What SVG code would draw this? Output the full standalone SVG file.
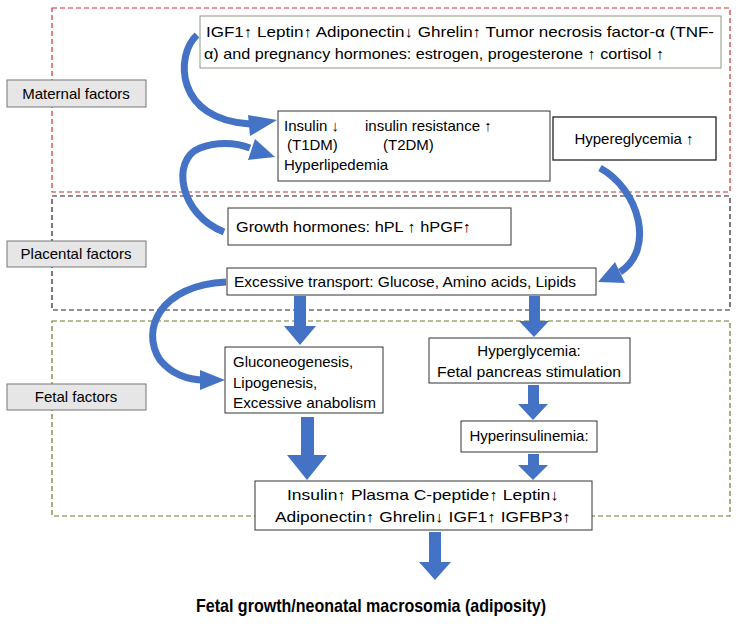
<svg xmlns="http://www.w3.org/2000/svg" width="739" height="628" viewBox="0 0 739 628">
<style>
text{font-family:"Liberation Sans",Arial,sans-serif;font-size:15px;fill:#000}
.b{fill:#fff;stroke:#333;stroke-width:1}
.lab{fill:#e6e6e6;stroke:#777;stroke-width:1}
.c{fill:none;stroke:#4472C4;stroke-width:7;stroke-linecap:butt}
.h{fill:#4472C4}
</style>
<rect width="739" height="628" fill="#fff"/>
<g id="regions" fill="none" stroke-width="1.2" stroke-dasharray="5,3">
<rect x="52" y="8" width="678" height="184" stroke="#d03030"/>
<rect x="52" y="196" width="678" height="114" stroke="#222"/>
<rect x="52" y="321" width="678" height="195" stroke="#6a7a30"/>
</g>
<g id="maternal"><rect class="lab" x="7" y="80" width="139" height="27"/><text x="76" y="99" text-anchor="middle">Maternal factors</text></g>
<g id="placental"><rect class="lab" x="7" y="241" width="139" height="26"/><text x="76" y="259" text-anchor="middle">Placental factors</text></g>
<g id="fetal"><rect class="lab" x="7" y="384" width="139" height="26"/><text x="76" y="402" text-anchor="middle">Fetal factors</text></g>
<g id="hormones"><rect x="200" y="16" width="521" height="52" fill="#fff" stroke="#8a9a80"/>
<text x="206" y="37" textLength="508" lengthAdjust="spacingAndGlyphs">IGF1↑ Leptin↑ Adiponectin↓ Ghrelin↑ Tumor necrosis factor-α (TNF-</text>
<text x="204" y="59" textLength="460" lengthAdjust="spacingAndGlyphs">α) and pregnancy hormones: estrogen, progesterone ↑ cortisol ↑</text></g>
<g id="insulin"><rect class="b" x="278" y="111" width="272" height="70"/>
<text x="284" y="131">Insulin ↓</text><text x="365" y="131">insulin resistance ↑</text>
<text x="287" y="150">(T1DM)</text><text x="383" y="150">(T2DM)</text>
<text x="284" y="170">Hyperlipedemia</text></g>
<g id="hyperegly"><rect x="553" y="117" width="163" height="43" fill="#fff" stroke="#222" stroke-width="1.3"/><text x="634" y="144" text-anchor="middle">Hypereglycemia ↑</text></g>
<g id="growth"><rect class="b" x="228" y="208" width="283" height="37"/><text x="236" y="232" textLength="235" lengthAdjust="spacingAndGlyphs">Growth hormones: hPL ↑  hPGF↑</text></g>
<g id="transport"><rect class="b" x="227" y="268" width="369" height="27"/><text x="234" y="287" textLength="342" lengthAdjust="spacingAndGlyphs">Excessive transport: Glucose, Amino acids, Lipids</text></g>
<g id="gluco"><rect class="b" x="225" y="347" width="158" height="66"/>
<text x="233" y="367">Gluconeogenesis,</text><text x="233" y="388">Lipogenesis,</text><text x="233" y="408" textLength="143" lengthAdjust="spacingAndGlyphs">Excessive anabolism</text></g>
<g id="hyperglyc"><rect class="b" x="429" y="338" width="201" height="45"/>
<text x="529" y="356" text-anchor="middle">Hyperglycemia:</text><text x="529" y="377" text-anchor="middle" textLength="184" lengthAdjust="spacingAndGlyphs">Fetal pancreas stimulation</text></g>
<g id="hyperins"><rect class="b" x="461" y="421" width="136" height="31"/><text x="529" y="441" text-anchor="middle">Hyperinsulinemia:</text></g>
<g id="markers"><rect class="b" x="255" y="481" width="337" height="49"/>
<text x="423" y="500" text-anchor="middle" textLength="272" lengthAdjust="spacingAndGlyphs">Insulin↑  Plasma C-peptide↑  Leptin↓</text>
<text x="423" y="522" text-anchor="middle" textLength="296" lengthAdjust="spacingAndGlyphs">Adiponectin↑ Ghrelin↓  IGF1↑  IGFBP3↑</text></g>
<g id="outcome"><text x="371" y="612" text-anchor="middle" textLength="350" lengthAdjust="spacingAndGlyphs" style="font-size:19px;font-weight:bold">Fetal growth/neonatal macrosomia (adiposity)</text></g>
<g id="connectors">
<path class="c" d="M197,35 C175,55 175,120 250,124"/><polygon class="h" points="248,115 277,120 250,136"/>
<path class="c" d="M224,232 C180,215 170,160 200,148 C215,142 235,142 250,148"/><polygon class="h" points="255,139 275,157 248,160"/>
<path class="c" d="M600,168 C640,190 655,250 620,272"/><polygon class="h" points="615,262 598,282 625,283"/>
<path class="c" d="M226,282 C160,285 140,330 160,360 C175,378 195,380 205,380"/><polygon class="h" points="200,370 225,380 200,390"/>
<g class="h">
<polygon points="294,296 306,296 306,326 316,326 300,345 284,326 294,326"/>
<polygon points="529,296 540,296 540,321 549,321 534,337 519,321 529,321"/>
<polygon points="528,385 539,385 539,404 548,404 533,420 518,404 528,404"/>
<polygon points="528,454 539,454 539,465 548,465 533,480 518,465 528,465"/>
<polygon points="301,417 314,417 314,455 327,455 307,480 287,455 301,455"/>
<polygon points="429,532 441,532 441,562 451,562 435,580 419,562 429,562"/>
</g>
</g>
</svg>
